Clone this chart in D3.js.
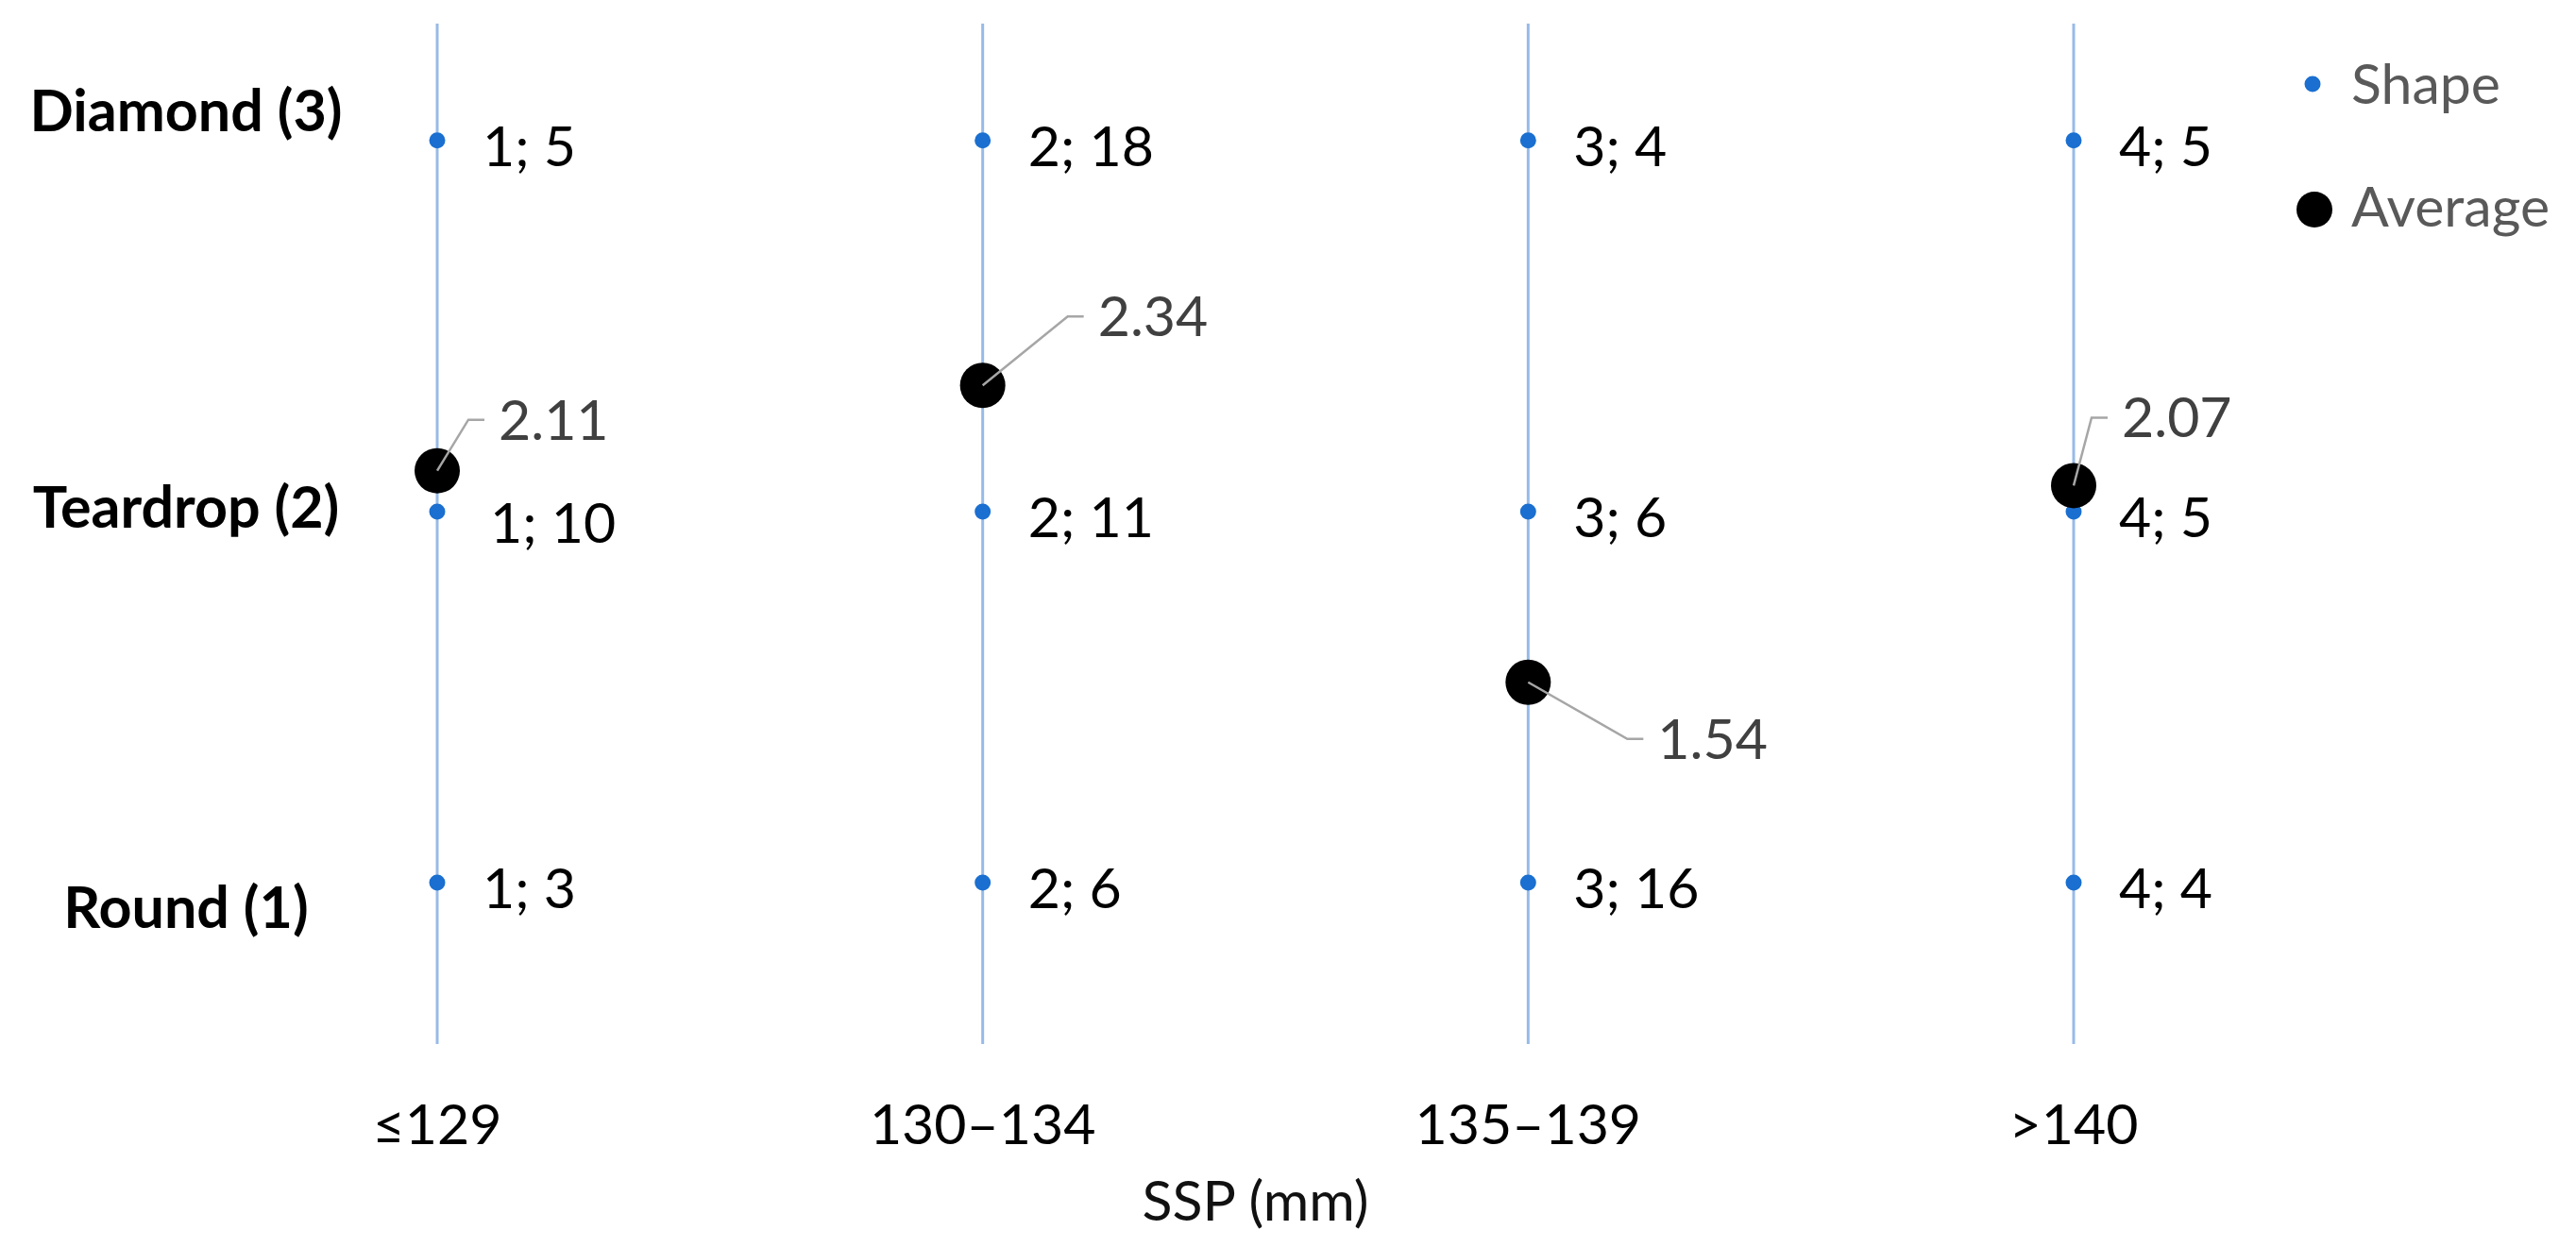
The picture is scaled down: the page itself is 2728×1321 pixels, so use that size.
<!DOCTYPE html>
<html>
<head>
<meta charset="utf-8">
<script src="https://cdn.jsdelivr.net/npm/d3@7"></script>
<style>
  html, body { margin: 0; padding: 0; background: #ffffff; }
  svg { display: block; }
</style>
</head>
<body>
<script>
// ---- data ----
const categories = ["≤129", "130–134", "135–139", ">140"];
const shapeNames = ["Round (1)", "Teardrop (2)", "Diamond (3)"];
const shapeCodes = [1, 2, 3];
const roundCounts = [3, 6, 16, 4];
const teardropCounts = [10, 11, 6, 5];
const diamondCounts = [5, 18, 4, 5];
const averages = [2.11, 2.34, 1.54, 2.07];
const legendLabels = ["Shape", "Average"];
const axisTitle = "SSP (mm)";

// ---- layout ----
const W = 2728, H = 1321;
const FONT = "Lato, 'Open Sans', 'Liberation Sans', sans-serif";

const svg = d3.select("body").append("svg")
  .attr("width", W).attr("height", H);

const x = d3.scaleLinear().domain([1, 4]).range([463, 2196]);
const y = d3.scaleLinear().domain([0.565, 3.315]).range([1106, 25]);

// vertical gridlines
svg.append("g").selectAll("line")
  .data(categories)
  .join("line")
  .attr("x1", (d, i) => x(i + 1)).attr("x2", (d, i) => x(i + 1))
  .attr("y1", y(y.domain()[1])).attr("y2", y(y.domain()[0]))
  .attr("stroke", "#97bbe8").attr("stroke-width", 3);

// x axis tick labels
svg.append("g").selectAll("text")
  .data(categories)
  .join("text")
  .attr("x", (d, i) => x(i + 1))
  .attr("y", 1212)
  .attr("text-anchor", "middle")
  .attr("font-family", FONT).attr("font-size", 59)
  .attr("fill", "#000")
  .text(d => d);

// axis title
svg.append("text")
  .attr("x", x(2.5)).attr("y", 1293)
  .attr("text-anchor", "middle")
  .attr("font-family", FONT).attr("font-size", 59)
  .attr("fill", "#111")
  .text(axisTitle);

// shape category labels (left)
const catLabelOffsets = [48, 17, -10];
svg.append("g").selectAll("text")
  .data(shapeNames)
  .join("text")
  .attr("x", 197)
  .attr("y", (d, i) => y(shapeCodes[i]) + catLabelOffsets[i])
  .attr("text-anchor", "middle")
  .attr("font-family", FONT).attr("font-size", 61).attr("font-weight", "bold")
  .attr("fill", "#000")
  .text(d => d);

// shape points
const countsBy = [roundCounts, teardropCounts, diamondCounts];
const pts = [];
countsBy.forEach((arr, si) => {
  arr.forEach((c, ci) => pts.push({ xv: ci + 1, yv: shapeCodes[si], count: c }));
});

svg.append("g").selectAll("circle")
  .data(pts)
  .join("circle")
  .attr("cx", d => x(d.xv)).attr("cy", d => y(d.yv))
  .attr("r", 8.5)
  .attr("fill", "#1a6fd0");

svg.append("g").selectAll("text")
  .data(pts)
  .join("text")
  .attr("x", d => x(d.xv) + (d.xv === 1 && d.yv === 2 ? 56 : 48))
  .attr("y", d => y(d.yv) + 27 + (d.xv === 1 && d.yv === 2 ? 6 : 0))
  .attr("font-family", FONT).attr("font-size", 59)
  .attr("fill", "#000")
  .text(d => `${d.xv}; ${d.count}`);

// averages with leader lines
const avgLabelOffsets = [[65, -54], [122, -73], [137, 60], [51, -72]];
const avgG = svg.append("g");
averages.forEach((v, i) => {
  const cx = x(i + 1), cy = y(v);
  const [dx, dy] = avgLabelOffsets[i];
  const lx = cx + dx, ly = cy + dy;
  avgG.append("circle")
    .attr("cx", cx).attr("cy", cy).attr("r", 24)
    .attr("fill", "#000");
  avgG.append("path")
    .attr("d", d3.line()([[cx, cy], [lx - 32, ly], [lx - 15, ly]]))
    .attr("fill", "none").attr("stroke", "#a6a6a6").attr("stroke-width", 2.5);
  avgG.append("text")
    .attr("x", lx).attr("y", ly + 21)
    .attr("font-family", FONT).attr("font-size", 59)
    .attr("fill", "#404040")
    .text(v.toFixed(2));
});

// legend
const legend = svg.append("g");
legend.append("circle").attr("cx", 2449).attr("cy", 89).attr("r", 8.5).attr("fill", "#1a6fd0");
legend.append("circle").attr("cx", 2451).attr("cy", 222).attr("r", 19).attr("fill", "#000");
legend.selectAll("text")
  .data(legendLabels)
  .join("text")
  .attr("x", 2490)
  .attr("y", (d, i) => [110, 240][i])
  .attr("font-family", FONT).attr("font-size", 59)
  .attr("fill", "#595959")
  .text(d => d);
</script>
</body>
</html>
